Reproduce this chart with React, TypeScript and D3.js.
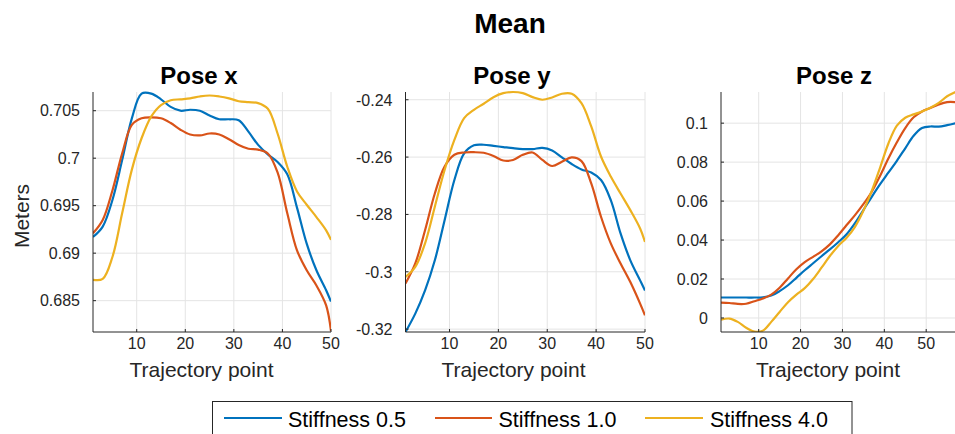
import React from "react";
import * as d3 from "d3";

// ---------- data ----------
const seriesNames = ["Stiffness 0.5", "Stiffness 1.0", "Stiffness 4.0"];
const seriesColors = ["#0072BD", "#D95319", "#EDB120"];

const gridXY = [1, 3, 5, 7, 9, 11, 13, 15, 17, 19, 21, 23, 25, 27, 29, 31, 33, 35, 37, 39, 41, 43, 45, 47, 49, 50];
const gridZ = [1, 3, 5, 7, 9, 11, 13, 15, 17, 19, 21, 23, 25, 27, 29, 31, 33, 35, 37, 39, 41, 43, 45, 47, 49, 51, 53, 55, 57];

const poseX05 = [0.6917, 0.6928, 0.6956, 0.6998, 0.7042, 0.7068, 0.7068, 0.7062, 0.7054, 0.7050, 0.7051, 0.7050, 0.7045, 0.7041, 0.7041, 0.7040, 0.7028, 0.7014, 0.7004, 0.6996, 0.6983, 0.6948, 0.6910, 0.6882, 0.6861, 0.6849];
const poseX10 = [0.6921, 0.6935, 0.6966, 0.7005, 0.7035, 0.7042, 0.7043, 0.7042, 0.7037, 0.7030, 0.7025, 0.7024, 0.7026, 0.7025, 0.7020, 0.7014, 0.7010, 0.7009, 0.7005, 0.6985, 0.6942, 0.6903, 0.6882, 0.6866, 0.6845, 0.6818];
const poseX40 = [0.6872, 0.6873, 0.6896, 0.6942, 0.6988, 0.7021, 0.7044, 0.7056, 0.7061, 0.7062, 0.7063, 0.7065, 0.7066, 0.7065, 0.7063, 0.7060, 0.7059, 0.7058, 0.7052, 0.7026, 0.6991, 0.6965, 0.6951, 0.6938, 0.6924, 0.6914];

const poseY05 = [-0.3210, -0.3146, -0.3065, -0.2960, -0.2820, -0.2680, -0.2587, -0.2559, -0.2557, -0.2561, -0.2565, -0.2569, -0.2572, -0.2572, -0.2568, -0.2577, -0.2601, -0.2624, -0.2643, -0.2654, -0.2680, -0.2750, -0.2866, -0.2960, -0.3030, -0.3065];
const poseY10 = [-0.3041, -0.2971, -0.2855, -0.2727, -0.2633, -0.2592, -0.2584, -0.2583, -0.2585, -0.2596, -0.2612, -0.2610, -0.2592, -0.2584, -0.2610, -0.2631, -0.2616, -0.2601, -0.2614, -0.2692, -0.2808, -0.2901, -0.2971, -0.3036, -0.3111, -0.3152];
const poseY40 = [-0.3018, -0.2983, -0.2901, -0.2773, -0.2645, -0.2540, -0.2464, -0.2435, -0.2414, -0.2391, -0.2377, -0.2373, -0.2377, -0.2391, -0.2400, -0.2392, -0.2379, -0.2379, -0.2412, -0.2493, -0.2598, -0.2668, -0.2727, -0.2785, -0.2849, -0.2896];

const poseZ05 = [0.0105, 0.0105, 0.0105, 0.0105, 0.0105, 0.0106, 0.0115, 0.0138, 0.0168, 0.0206, 0.0245, 0.0281, 0.0317, 0.0352, 0.0389, 0.0430, 0.0487, 0.0554, 0.0622, 0.0687, 0.0747, 0.0807, 0.0871, 0.0935, 0.0975, 0.0983, 0.0982, 0.0990, 0.1000];
const poseZ10 = [0.0079, 0.0077, 0.0072, 0.0073, 0.0086, 0.0100, 0.0120, 0.0155, 0.0203, 0.0250, 0.0287, 0.0314, 0.0342, 0.0378, 0.0425, 0.0477, 0.0528, 0.0584, 0.0648, 0.0730, 0.0820, 0.0902, 0.0975, 0.1030, 0.1060, 0.1078, 0.1096, 0.1108, 0.1108];
const poseZ40 = [-0.0009, -0.0003, -0.0020, -0.0050, -0.0070, -0.0065, -0.0020, 0.0031, 0.0081, 0.0120, 0.0153, 0.0200, 0.0258, 0.0318, 0.0370, 0.0412, 0.0468, 0.0550, 0.0652, 0.0772, 0.0897, 0.0987, 0.1028, 0.1045, 0.1060, 0.1079, 0.1104, 0.1138, 0.1160];

const xTicks = [10, 20, 30, 40, 50];
const xTickLabels = ["10", "20", "30", "40", "50"];
const yTicksX = [0.685, 0.69, 0.695, 0.7, 0.705];
const yTickLabelsX = ["0.685", "0.69", "0.695", "0.7", "0.705"];
const yTicksY = [-0.32, -0.3, -0.28, -0.26, -0.24];
const yTickLabelsY = ["-0.32", "-0.3", "-0.28", "-0.26", "-0.24"];
const yTicksZ = [0, 0.02, 0.04, 0.06, 0.08, 0.1];
const yTickLabelsZ = ["0", "0.02", "0.04", "0.06", "0.08", "0.1"];

const panelTitles = ["Pose x", "Pose y", "Pose z"];

// ---------- layout ----------
const W = 955;
const H = 434;
const FONT = "'Liberation Sans', Arial, Helvetica, sans-serif";
const TXT = "#262626";

type Panel = {
  title: string;
  left: number;
  right: number;
  xDomain: [number, number];
  yDomain: [number, number];
  grid: number[];
  series: number[][];
  yTicks: number[];
  yLabels: string[];
  titleX: number;
  labelX: number;
};

const panels: Panel[] = [
  {
    title: panelTitles[0], left: 93, right: 331, xDomain: [1, 50], yDomain: [0.6817, 0.70697],
    grid: gridXY, series: [poseX05, poseX10, poseX40], yTicks: yTicksX, yLabels: yTickLabelsX,
    titleX: 199, labelX: 201.5,
  },
  {
    title: panelTitles[1], left: 405.5, right: 645, xDomain: [1, 50], yDomain: [-0.321, -0.2373],
    grid: gridXY, series: [poseY05, poseY10, poseY40], yTicks: yTicksY, yLabels: yTickLabelsY,
    titleX: 512, labelX: 513.5,
  },
  {
    title: panelTitles[2], left: 721, right: 955.5, xDomain: [1, 57], yDomain: [-0.0072, 0.116],
    grid: gridZ, series: [poseZ05, poseZ10, poseZ40], yTicks: yTicksZ, yLabels: yTickLabelsZ,
    titleX: 834, labelX: 828,
  },
];

const TOP = 92;
const BOTTOM = 332;

function PanelView({ p, idx }: { p: Panel; idx: number }) {
  const x = d3.scaleLinear().domain(p.xDomain).range([p.left, p.right]);
  const y = d3.scaleLinear().domain(p.yDomain).range([BOTTOM, TOP]);
  const line = d3
    .line<[number, number]>()
    .x((d) => x(d[0]))
    .y((d) => y(d[1]))
    .curve(d3.curveCatmullRom.alpha(0.5));
  const clipId = `clip-${idx}`;
  return (
    <g>
      <defs>
        <clipPath id={clipId}>
          <rect x={p.left} y={TOP - 2} width={p.right - p.left} height={BOTTOM - TOP + 2} />
        </clipPath>
      </defs>
      {/* grid */}
      {xTicks.map((t) => (
        <line key={"gx" + t} x1={x(t)} x2={x(t)} y1={TOP} y2={BOTTOM} stroke="#e4e4e4" strokeWidth={1} />
      ))}
      {p.yTicks.map((t) => (
        <line key={"gy" + t} x1={p.left} x2={p.right} y1={y(t)} y2={y(t)} stroke="#e4e4e4" strokeWidth={1} />
      ))}
      {/* series */}
      <g clipPath={`url(#${clipId})`}>
        {p.series.map((s, i) => (
          <path
            key={i}
            d={line(s.map((v, j) => [p.grid[j], v] as [number, number])) || ""}
            fill="none"
            stroke={seriesColors[i]}
            strokeWidth={2.2}
            strokeLinejoin="round"
          />
        ))}
      </g>
      {/* axes */}
      <line x1={p.left} x2={p.left} y1={TOP} y2={BOTTOM} stroke={TXT} strokeWidth={1} />
      <line x1={p.left} x2={p.right} y1={BOTTOM} y2={BOTTOM} stroke={TXT} strokeWidth={1} />
      {xTicks.map((t, i) => (
        <g key={"xt" + t}>
          <line x1={x(t)} x2={x(t)} y1={BOTTOM} y2={BOTTOM - 3} stroke={TXT} strokeWidth={1} />
          <text x={x(t)} y={348.5} textAnchor="middle" fontSize={16} fontFamily={FONT} fill={TXT}>
            {xTickLabels[i]}
          </text>
        </g>
      ))}
      {p.yTicks.map((t, i) => (
        <g key={"yt" + t}>
          <line x1={p.left} x2={p.left + 3} y1={y(t)} y2={y(t)} stroke={TXT} strokeWidth={1} />
          <text x={p.left - 13} y={y(t)} dy="0.36em" textAnchor="end" fontSize={16} fontFamily={FONT} fill={TXT}>
            {p.yLabels[i]}
          </text>
        </g>
      ))}
      <text x={p.titleX} y={83.5} textAnchor="middle" fontSize={24} fontWeight="bold" fontFamily={FONT} fill="#000">
        {p.title}
      </text>
      <text x={p.labelX} y={377} textAnchor="middle" fontSize={21} fontFamily={FONT} fill={TXT}>
        Trajectory point
      </text>
    </g>
  );
}

export default function App() {
  const legendLines = [
    { x1: 224, x2: 282, tx: 288 },
    { x1: 435, x2: 492, tx: 498.5 },
    { x1: 645, x2: 703, tx: 710 },
  ];
  return (
    <svg
      width={W}
      height={H}
      viewBox={`0 0 ${W} ${H}`}
      style={{ position: "absolute", left: 0, top: 0, background: "#fff" }}
    >
      <rect x={0} y={0} width={W} height={H} fill="#fff" />
      <text x={510} y={32.5} textAnchor="middle" fontSize={28} fontWeight="bold" fontFamily={FONT} fill="#000">
        Mean
      </text>
      {panels.map((p, i) => (
        <PanelView key={i} p={p} idx={i} />
      ))}
      <text
        transform="translate(28.5,216) rotate(-90)"
        textAnchor="middle"
        fontSize={21}
        fontFamily={FONT}
        fill={TXT}
      >
        Meters
      </text>
      {/* legend */}
      <rect x={212.5} y={401.5} width={639.5} height={45} fill="#fff" stroke="#262626" strokeWidth={1} />
      {seriesNames.map((n, i) => (
        <g key={n}>
          <line x1={legendLines[i].x1} x2={legendLines[i].x2} y1={418} y2={418} stroke={seriesColors[i]} strokeWidth={2.2} />
          <text x={legendLines[i].tx} y={426.5} fontSize={21.5} fontFamily={FONT} fill="#000">
            {n}
          </text>
        </g>
      ))}
    </svg>
  );
}
